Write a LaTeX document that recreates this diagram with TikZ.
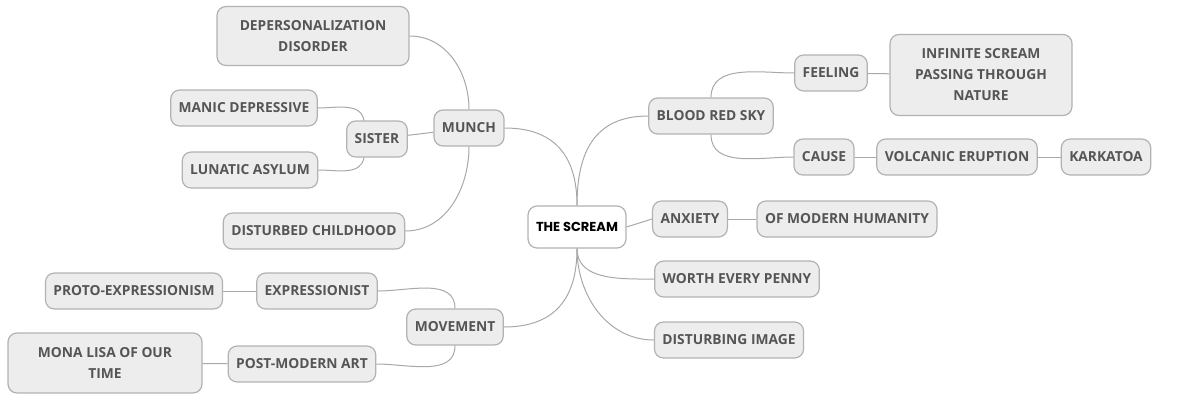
\documentclass[tikz,border=0pt]{standalone}
\usepackage{fontspec}
\setmainfont{Open Sans}
\newfontfamily\screamfont{Poppins}
\definecolor{boxfill}{HTML}{EDEDED}
\definecolor{boxline}{HTML}{B2B2B2}
\definecolor{linkgray}{HTML}{A8A8A8}
\definecolor{textgray}{HTML}{555555}

\begin{document}
\begin{tikzpicture}[x=1pt, y=-1pt,
  topic/.style={draw=boxline, fill=boxfill, rounded corners=9pt, line width=1.2pt,
    text=textgray, font=\fontsize{13.8}{21}\selectfont\bfseries, align=center,
    inner xsep=8pt, inner ysep=2pt, minimum height=36pt},
  central/.style={topic, fill=white, text=black,
    font=\screamfont\fontsize{13}{15}\selectfont\bfseries, minimum height=42pt},
  link/.style={draw=linkgray, line width=1pt}]
        \useasboundingbox (0,0) rectangle (1182,394);
        % Centre
        \node[central] (scream) at (577,227) {THE SCREAM};
        % Right side
        \node[topic] (blood) at (711,116) {BLOOD RED SKY};
        \node[topic] (feeling) at (831,73) {FEELING};
        \node[topic, minimum width=182pt, minimum height=81pt] (infinite) at (981,75) {INFINITE SCREAM\\PASSING THROUGH\\NATURE};
        \node[topic] (cause) at (824,157) {CAUSE};
        \node[topic] (volcanic) at (957,157) {VOLCANIC ERUPTION};
        \node[topic] (karkatoa) at (1106,157) {KARKATOA};
        \node[topic] (anxiety) at (690,219) {ANXIETY};
        \node[topic] (modern) at (847,219) {OF MODERN HUMANITY};
        \node[topic] (worth) at (737,279) {WORTH EVERY PENNY};
        \node[topic] (disturbing) at (729,340) {DISTURBING IMAGE};
        % Left side
        \node[topic] (munch) at (469,128) {MUNCH};
        \node[topic] (sister) at (377,139) {SISTER};
        \node[topic] (manic) at (244,108) {MANIC DEPRESSIVE};
        \node[topic] (lunatic) at (250,170) {LUNATIC ASYLUM};
        \node[topic, minimum width=192pt, minimum height=59pt] (deperson) at (313,36) {DEPERSONALIZATION\\DISORDER};
        \node[topic] (childhood) at (314,231) {DISTURBED CHILDHOOD};
        \node[topic] (movement) at (455,327) {MOVEMENT};
        \node[topic] (expressionist) at (317,291) {EXPRESSIONIST};
        \node[topic] (proto) at (134,291) {PROTO-EXPRESSIONISM};
        \node[topic] (postmodern) at (302,364) {POST-MODERN ART};
        \node[topic, minimum width=194pt, minimum height=60pt] (monalisa) at (105,363) {MONA LISA OF OUR\\TIME};
        % Main branches
        \draw[link] (scream.north) to[out=90, in=180, looseness=1.2] (blood.west);
        \draw[link] (scream.north) to[out=90, in=0, looseness=1.2] (munch.east);
        \draw[link] (scream.east) -- (anxiety.west);
        \draw[link] (scream.south) to[out=-90, in=180] (worth.west);
        \draw[link] (scream.south) to[out=-90, in=180] (disturbing.west);
        \draw[link] (scream.south) to[out=-90, in=0, looseness=1.2] (movement.east);
        % Sub branches
        \draw[link] (blood.north) to[out=90, in=180] (feeling.west);
        \draw[link] (blood.south) to[out=-90, in=180] (cause.west);
        \draw[link] (feeling) -- (infinite);
        \draw[link] (cause) -- (volcanic);
        \draw[link] (volcanic) -- (karkatoa);
        \draw[link] (anxiety) -- (modern);
        \draw[link] (munch.north) to[out=90, in=0] (deperson.east);
        \draw[link] (munch) -- (sister);
        \draw[link] (munch.south) to[out=-90, in=0] (childhood.east);
        \draw[link] (sister.125) to[out=100, in=0] (manic.east);
        \draw[link] (sister.235) to[out=-100, in=0] (lunatic.east);
        \draw[link] (movement.north) to[out=90, in=0] (expressionist.east);
        \draw[link] (movement.south) to[out=-90, in=0] (postmodern.east);
        \draw[link] (proto) -- (expressionist);
        \draw[link] (monalisa) -- (postmodern);
      \end{tikzpicture}
\end{document}
